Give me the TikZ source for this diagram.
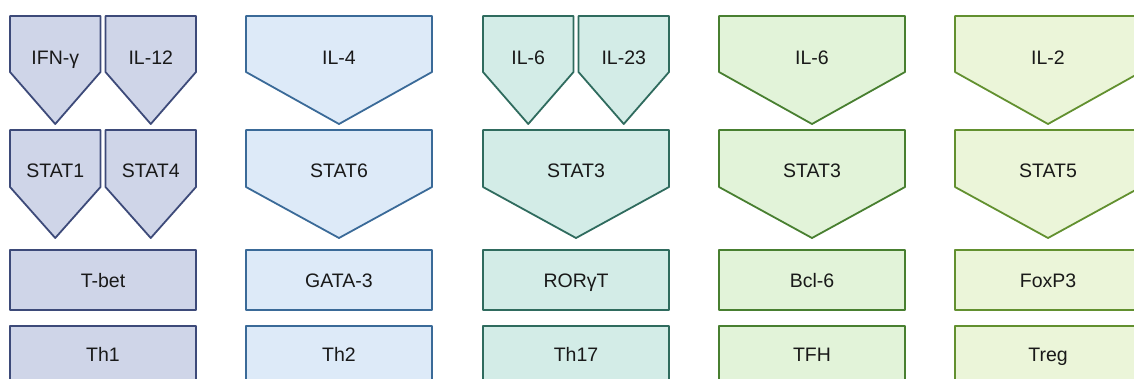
\documentclass[tikz,border=0pt]{standalone}
\usepackage{fontspec}
\setmainfont{Liberation Sans}
\definecolor{thonefill}{HTML}{CFD5E8}
\definecolor{thoneline}{HTML}{3D4A79}
\definecolor{thtwofill}{HTML}{DDEAF8}
\definecolor{thtwoline}{HTML}{3A6A98}
\definecolor{ththreefill}{HTML}{D3ECE7}
\definecolor{ththreeline}{HTML}{2F6B5E}
\definecolor{tfhfill}{HTML}{E2F3D9}
\definecolor{tfhline}{HTML}{487F30}
\definecolor{tregfill}{HTML}{EBF5D9}
\definecolor{tregline}{HTML}{62902F}
\tikzset{
    shp/.style={line width=1.8pt,line join=round},
    thone/.style={shp,draw=thoneline,fill=thonefill},
    thtwo/.style={shp,draw=thtwoline,fill=thtwofill},
    ththree/.style={shp,draw=ththreeline,fill=ththreefill},
    tfh/.style={shp,draw=tfhline,fill=tfhfill},
    treg/.style={shp,draw=tregline,fill=tregfill},
    lab/.style={font=\fontsize{19.5}{22}\selectfont,text=black!90,text height=14pt,text depth=0pt,inner sep=0pt},
    box/.style={lab,rectangle,minimum width=186pt}
}
\begin{document}
\begin{tikzpicture}[x=1pt,y=-1pt]
    \useasboundingbox (0,0) rectangle (1134,378);
    \clip (0,0) rectangle (1134,378);
    %% Th1
    \draw[thone] (10,16) -- (100.5,16) -- (100.5,72) -- (55.25,124) -- (10,72) -- cycle;
    \node[lab] (ifng) at (55.25,57) {IFN-γ};
    \draw[thone] (105.5,16) -- (196,16) -- (196,72) -- (150.75,124) -- (105.5,72) -- cycle;
    \node[lab] (il12) at (150.75,57) {IL-12};
    \draw[thone] (10,130) -- (100.5,130) -- (100.5,187) -- (55.25,238) -- (10,187) -- cycle;
    \node[lab] (stat1) at (55.25,170) {STAT1};
    \draw[thone] (105.5,130) -- (196,130) -- (196,187) -- (150.75,238) -- (105.5,187) -- cycle;
    \node[lab] (stat4) at (150.75,170) {STAT4};
    \node[box,thone,minimum height=60pt] (tbet) at (103,280) {T-bet};
    \node[box,thone,minimum height=56pt] (th1) at (103,354) {Th1};
    %% Th2
    \draw[thtwo] (246,16) -- (432,16) -- (432,72) -- (339,124) -- (246,72) -- cycle;
    \node[lab] (il4) at (339,57) {IL-4};
    \draw[thtwo] (246,130) -- (432,130) -- (432,187) -- (339,238) -- (246,187) -- cycle;
    \node[lab] (stat6) at (339,170) {STAT6};
    \node[box,thtwo,minimum height=60pt] (gata3) at (339,280) {GATA-3};
    \node[box,thtwo,minimum height=56pt] (th2) at (339,354) {Th2};
    %% Th17
    \draw[ththree] (483,16) -- (573.5,16) -- (573.5,72) -- (528.25,124) -- (483,72) -- cycle;
    \node[lab] (il6a) at (528.25,57) {IL-6};
    \draw[ththree] (578.5,16) -- (669,16) -- (669,72) -- (623.75,124) -- (578.5,72) -- cycle;
    \node[lab] (il23) at (623.75,57) {IL-23};
    \draw[ththree] (483,130) -- (669,130) -- (669,187) -- (576,238) -- (483,187) -- cycle;
    \node[lab] (stat3a) at (576,170) {STAT3};
    \node[box,ththree,minimum height=60pt] (roryt) at (576,280) {RORγT};
    \node[box,ththree,minimum height=56pt] (th17) at (576,354) {Th17};
    %% TFH
    \draw[tfh] (719,16) -- (905,16) -- (905,72) -- (812,124) -- (719,72) -- cycle;
    \node[lab] (il6b) at (812,57) {IL-6};
    \draw[tfh] (719,130) -- (905,130) -- (905,187) -- (812,238) -- (719,187) -- cycle;
    \node[lab] (stat3b) at (812,170) {STAT3};
    \node[box,tfh,minimum height=60pt] (bcl6) at (812,280) {Bcl-6};
    \node[box,tfh,minimum height=56pt] (tfhcell) at (812,354) {TFH};
    %% Treg
    \draw[treg] (955,16) -- (1141,16) -- (1141,72) -- (1048,124) -- (955,72) -- cycle;
    \node[lab] (il2) at (1048,57) {IL-2};
    \draw[treg] (955,130) -- (1141,130) -- (1141,187) -- (1048,238) -- (955,187) -- cycle;
    \node[lab] (stat5) at (1048,170) {STAT5};
    \node[box,treg,minimum height=60pt] (foxp3) at (1048,280) {FoxP3};
    \node[box,treg,minimum height=56pt] (treg) at (1048,354) {Treg};
\end{tikzpicture}
\end{document}
